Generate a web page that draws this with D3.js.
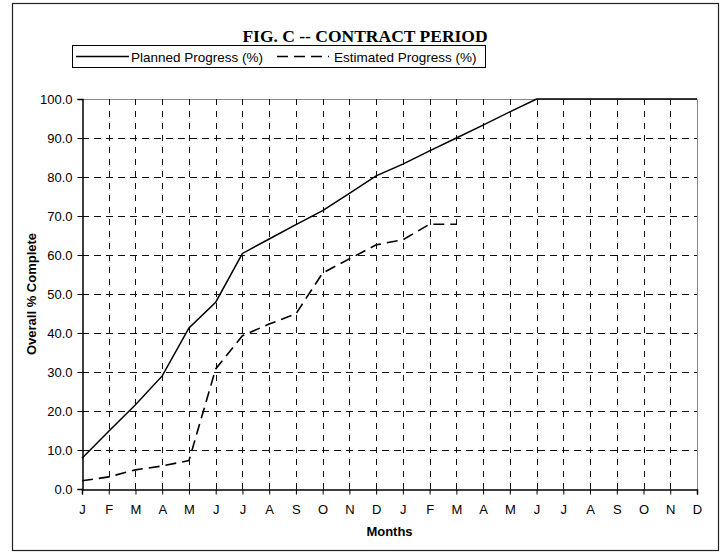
<!DOCTYPE html>
<html>
<head>
<meta charset="utf-8">
<script src="https://cdn.jsdelivr.net/npm/d3@7"></script>
<style>
  body { margin: 0; background: #fff; }
  svg { display: block; }
  text { font-family: "Liberation Sans", Arial, sans-serif; }
</style>
</head>
<body>
<div id="chart"></div>
<script>
// months along the x axis (two years)
const months = ["J","F","M","A","M","J","J","A","S","O","N","D",
                "J","F","M","A","M","J","J","A","S","O","N","D"];

// planned progress (%) per month
const planned = [7.9, 14.8, 21.6, 29.0, 41.3, 47.9, 60.4, 64.1, 67.8, 71.4, 75.8, 80.3,
                 83.3, 86.7, 90.0, 93.3, 96.7, 100, 100, 100, 100, 100, 100, 100];

// estimated progress (%) per month, data stops after March of year two
const estimated = [2.1, 3.1, 4.9, 5.9, 7.3, 30.8, 39.3, 42.3, 44.9, 55.4, 59.0, 62.6,
                   63.9, 67.9, 67.9];

const yTicks = [0, 10, 20, 30, 40, 50, 60, 70, 80, 90, 100];

const W = 725, H = 552;
const plot = { left: 82, right: 697, top: 99, bottom: 489 };

const svg = d3.select("#chart").append("svg")
  .attr("width", W).attr("height", H);

// outer frame
svg.append("rect")
  .attr("x", 12.5).attr("y", 3.5)
  .attr("width", 706).attr("height", 547)
  .attr("fill", "#fff").attr("stroke", "#222").attr("stroke-width", 1.2);

const idx = d3.range(months.length);
const x = d3.scalePoint().domain(idx).range([plot.left, plot.right]);
const y = d3.scaleLinear().domain([0, 100]).range([plot.bottom, plot.top]);

// plot border (top + right in gray)
svg.append("path")
  .attr("d", `M${plot.left},${plot.top + 0.5}H${plot.right + 0.5}V${plot.bottom}`)
  .attr("fill", "none").attr("stroke", "#888").attr("stroke-width", 1);

// horizontal dashed gridlines
svg.append("g").selectAll("line")
  .data(yTicks.filter(d => d > 0 && d < 100))
  .join("line")
  .attr("x1", plot.left).attr("x2", plot.right)
  .attr("y1", d => Math.round(y(d)) + 0.5).attr("y2", d => Math.round(y(d)) + 0.5)
  .attr("stroke", "#111").attr("stroke-dasharray", "7,5");

// vertical dashed gridlines
svg.append("g").selectAll("line")
  .data(idx.slice(1, -1))
  .join("line")
  .attr("x1", d => Math.round(x(d)) + 0.5).attr("x2", d => Math.round(x(d)) + 0.5)
  .attr("y1", plot.top).attr("y2", plot.bottom)
  .attr("stroke", "#111").attr("stroke-dasharray", "6,6");

// y axis
const yAxis = svg.append("g")
  .attr("transform", `translate(${plot.left + 0.5},0)`)
  .call(d3.axisLeft(y).tickValues(yTicks).tickFormat(d3.format(".1f"))
    .tickSize(5).tickPadding(5));
yAxis.select(".domain").attr("stroke", "#000").attr("stroke-width", 1.5);
yAxis.selectAll(".tick line").attr("stroke", "#000");
yAxis.selectAll("text").attr("font-size", 13).attr("fill", "#000");

// x axis
const xAxis = svg.append("g")
  .attr("transform", `translate(0,${plot.bottom + 0.5})`)
  .call(d3.axisBottom(x).tickFormat(i => months[i]).tickSize(5).tickPadding(10));
xAxis.select(".domain").attr("stroke", "#000").attr("stroke-width", 1.5);
xAxis.selectAll(".tick line").attr("stroke", "#000");
xAxis.selectAll("text").attr("font-size", 13).attr("fill", "#000");

// series lines
const line = d3.line().x((d, i) => x(i)).y(d => y(d));

svg.append("path")
  .datum(planned)
  .attr("d", line)
  .attr("fill", "none").attr("stroke", "#000").attr("stroke-width", 1.5);

svg.append("path")
  .datum(estimated)
  .attr("d", line)
  .attr("fill", "none").attr("stroke", "#000").attr("stroke-width", 1.6)
  .attr("stroke-dasharray", "11,6");

// axis titles
svg.append("text")
  .attr("x", (plot.left + plot.right) / 2).attr("y", 536)
  .attr("text-anchor", "middle").attr("font-size", 13).attr("font-weight", "bold")
  .text("Months");

svg.append("text")
  .attr("transform", `translate(36,${(plot.top + plot.bottom) / 2}) rotate(-90)`)
  .attr("text-anchor", "middle").attr("font-size", 13).attr("font-weight", "bold")
  .text("Overall % Complete");

// chart title (serif, so set as style to beat the css rule)
svg.append("text")
  .attr("x", 365).attr("y", 41.5)
  .attr("text-anchor", "middle")
  .style("font-family", "'Liberation Serif', 'Times New Roman', serif")
  .attr("font-size", 17.5).attr("font-weight", "bold")
  .text("FIG. C -- CONTRACT PERIOD");

// legend
const leg = svg.append("g");
leg.append("rect")
  .attr("x", 72.5).attr("y", 45.5).attr("width", 413).attr("height", 22)
  .attr("fill", "#fff").attr("stroke", "#000").attr("stroke-width", 1);

leg.append("line")
  .attr("x1", 76).attr("x2", 129).attr("y1", 56.5).attr("y2", 56.5)
  .attr("stroke", "#000").attr("stroke-width", 1.5);
leg.append("text")
  .attr("x", 131).attr("y", 61.5).attr("font-size", 13.5)
  .text("Planned Progress (%)");

leg.append("line")
  .attr("x1", 277).attr("x2", 329).attr("y1", 56.5).attr("y2", 56.5)
  .attr("stroke", "#000").attr("stroke-width", 1.6)
  .attr("stroke-dasharray", "11,6");
leg.append("text")
  .attr("x", 334).attr("y", 61.5).attr("font-size", 13.5)
  .text("Estimated Progress (%)");
</script>
</body>
</html>
